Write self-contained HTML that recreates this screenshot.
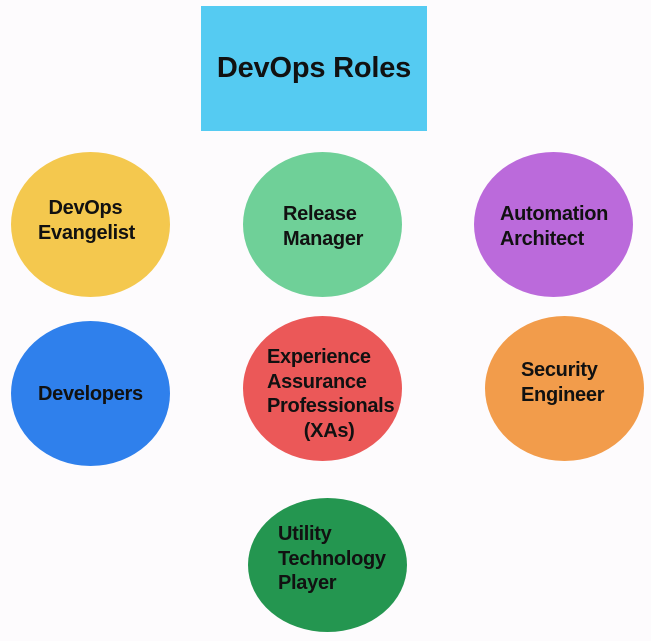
<!DOCTYPE html>
<html><head><meta charset="utf-8"><style>
body{margin:0;width:651px;height:641px;background:#fdfbfd;position:relative;overflow:hidden;font-family:"Liberation Sans",sans-serif;font-weight:bold;color:#111}
.e{position:absolute;border-radius:50%}
.t{position:absolute;font-size:20px;line-height:24.5px;white-space:nowrap;letter-spacing:-0.3px}
</style></head><body>
<div style="position:absolute;left:201px;top:6px;width:226px;height:125px;background:#55cbf2"></div>
<div style="position:absolute;left:201px;top:6px;width:226px;height:125px;line-height:125px;text-align:center;font-size:29px;letter-spacing:-0.2px">DevOps Roles</div>

<div class="e" style="left:11px;top:152px;width:159px;height:145px;background:#f4c84e"></div>
<div class="e" style="left:243px;top:152px;width:159px;height:145px;background:#6fd098"></div>
<div class="e" style="left:474px;top:152px;width:159px;height:145px;background:#bb6adb"></div>
<div class="e" style="left:11px;top:321px;width:159px;height:145px;background:#2f80ec"></div>
<div class="e" style="left:243px;top:316px;width:159px;height:145px;background:#eb5858"></div>
<div class="e" style="left:485px;top:316px;width:159px;height:145px;background:#f29c4b"></div>
<div class="e" style="left:248px;top:498px;width:159px;height:134px;background:#249650"></div>

<div class="t" style="left:38px;top:196px">&nbsp;&nbsp;DevOps<br>Evangelist</div>
<div class="t" style="left:283px;top:202px">Release<br>Manager</div>
<div class="t" style="left:500px;top:202px">Automation<br>Architect</div>
<div class="t" style="left:38px;top:382px">Developers</div>
<div class="t" style="left:267px;top:345px">Experience<br>Assurance<br>Professionals<br>&nbsp;&nbsp;&nbsp;&nbsp;&nbsp;&nbsp;&nbsp;(XAs)</div>
<div class="t" style="left:521px;top:358px">Security<br>Engineer</div>
<div class="t" style="left:278px;top:522px">Utility<br>Technology<br>Player</div>
</body></html>
